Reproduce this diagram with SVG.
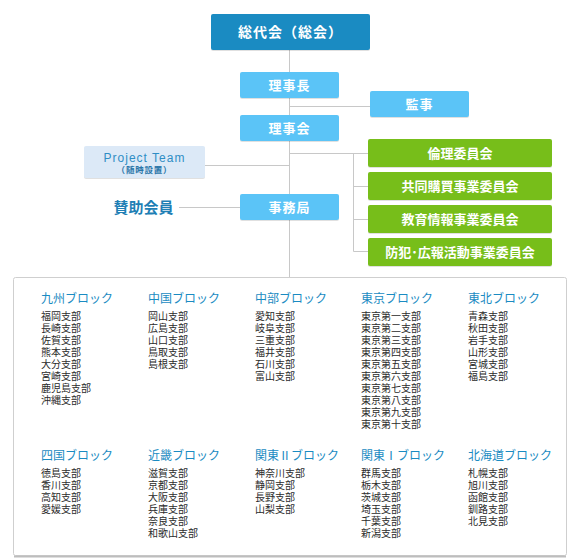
<svg xmlns="http://www.w3.org/2000/svg" width="580" height="559" viewBox="0 0 580 559">
<style>
text{font-family:"Noto Sans CJK JP","Liberation Sans",sans-serif}
.ln{stroke:#c8c8c8;stroke-width:1;fill:none}
.top{fill:#1a8bc2}
.lb{fill:#5bc4f7}
.gr{fill:#77be1a}
.shd{fill:#000;opacity:0.12}
.wt{fill:#fff;font-weight:bold;text-anchor:middle}
.hd{fill:#1a8bc2;font-size:12px}
.it{fill:#2b2b2b;font-size:10px;font-family:"Liberation Sans","Noto Sans CJK JP",sans-serif}
</style>
<rect width="580" height="559" fill="#fff"/>
<g id="connectors">
<path class="ln" d="M289.5 50V277"/>
<path class="ln" d="M289.5 106.5H370"/>
<path class="ln" d="M205 165.5H289.5"/>
<path class="ln" d="M179 207.5H240"/>
<path class="ln" d="M289.5 153.5H368"/>
<path class="ln" d="M353.5 153.5V251.5"/>
<path class="ln" d="M353.5 186.5H368M353.5 219.5H368M353.5 251.5H368"/>
</g>
<g id="sodaikai">
<rect class="shd" x="211" y="15" width="159" height="36" rx="2"/>
<rect class="top" x="211" y="14" width="159" height="36" rx="2"/>
<text class="wt" x="290.5" y="37" font-size="14" letter-spacing="1">総代会（総会）</text>
</g>
<g id="rijicho">
<rect class="shd" x="240" y="73" width="99" height="26" rx="2"/>
<rect class="lb" x="240" y="72" width="99" height="26" rx="2"/>
<text class="wt" x="289.5" y="90" font-size="13" letter-spacing="1">理事長</text>
</g>
<g id="kanji">
<rect class="shd" x="370" y="92" width="99" height="26" rx="2"/>
<rect class="lb" x="370" y="91" width="99" height="26" rx="2"/>
<text class="wt" x="419.5" y="109" font-size="13" letter-spacing="1">監事</text>
</g>
<g id="rijikai">
<rect class="shd" x="240" y="116" width="99" height="26" rx="2"/>
<rect class="lb" x="240" y="115" width="99" height="26" rx="2"/>
<text class="wt" x="289.5" y="133" font-size="13" letter-spacing="1">理事会</text>
</g>
<g id="project-team">
<rect class="shd" x="84" y="147" width="121" height="32" rx="2"/>
<rect x="84" y="146" width="121" height="32" rx="2" fill="#dce9f7"/>
<text x="144.5" y="161.5" font-size="12" fill="#2f8ec5" text-anchor="middle" letter-spacing="1" style="font-family:'Liberation Sans','Noto Sans CJK JP',sans-serif">Project Team</text>
<text x="144.5" y="173" font-size="8.5" fill="#2a75a8" font-weight="bold" text-anchor="middle" letter-spacing="0.8" style="font-family:'Liberation Sans','Noto Sans CJK JP',sans-serif">（随時設置）</text>
</g>
<g id="jimukyoku">
<rect class="shd" x="240" y="195" width="99" height="26" rx="2"/>
<rect class="lb" x="240" y="194" width="99" height="26" rx="2"/>
<text class="wt" x="289.5" y="212" font-size="13" letter-spacing="1">事務局</text>
</g>
<g id="sanjo">
<text x="143.5" y="213" font-size="15" font-weight="bold" fill="#1e7fb5" text-anchor="middle">賛助会員</text>
</g>
<g id="rinri">
<rect class="shd" x="368" y="140" width="184" height="28" rx="2"/>
<rect class="gr" x="368" y="139" width="184" height="28" rx="2"/>
<text class="wt" x="460" y="158" font-size="13">倫理委員会</text>
</g>
<g id="kyodo">
<rect class="shd" x="368" y="173" width="184" height="28" rx="2"/>
<rect class="gr" x="368" y="172" width="184" height="28" rx="2"/>
<text class="wt" x="460" y="191" font-size="13">共同購買事業委員会</text>
</g>
<g id="kyoiku">
<rect class="shd" x="368" y="206" width="184" height="28" rx="2"/>
<rect class="gr" x="368" y="205" width="184" height="28" rx="2"/>
<text class="wt" x="460" y="224" font-size="13">教育情報事業委員会</text>
</g>
<g id="bohan">
<rect class="shd" x="368" y="239" width="184" height="28" rx="2"/>
<rect class="gr" x="368" y="238" width="184" height="28" rx="2"/>
<text class="wt" x="460" y="257" font-size="13">防犯･広報活動事業委員会</text>
</g>
<g id="blocks">
<rect x="13.5" y="277.5" width="553" height="278" rx="2" fill="#fff" stroke="#cfcfcf"/>
<path d="M14 556.5H566" stroke="#bdbdbd" stroke-width="2"/>
<g id="kyushu">
<text class="hd" x="41" y="303">九州ブロック</text>
<text class="it" x="41" y="319.5">福岡支部</text><text class="it" x="41" y="331.5">長崎支部</text><text class="it" x="41" y="343.5">佐賀支部</text><text class="it" x="41" y="355.5">熊本支部</text><text class="it" x="41" y="367.5">大分支部</text><text class="it" x="41" y="379.5">宮崎支部</text><text class="it" x="41" y="391.5">鹿児島支部</text><text class="it" x="41" y="403.5">沖縄支部</text>
</g>
<g id="chugoku">
<text class="hd" x="148" y="303">中国ブロック</text>
<text class="it" x="148" y="319.5">岡山支部</text><text class="it" x="148" y="331.5">広島支部</text><text class="it" x="148" y="343.5">山口支部</text><text class="it" x="148" y="355.5">鳥取支部</text><text class="it" x="148" y="367.5">島根支部</text>
</g>
<g id="chubu">
<text class="hd" x="255" y="303">中部ブロック</text>
<text class="it" x="255" y="319.5">愛知支部</text><text class="it" x="255" y="331.5">岐阜支部</text><text class="it" x="255" y="343.5">三重支部</text><text class="it" x="255" y="355.5">福井支部</text><text class="it" x="255" y="367.5">石川支部</text><text class="it" x="255" y="379.5">富山支部</text>
</g>
<g id="tokyo">
<text class="hd" x="361" y="303">東京ブロック</text>
<text class="it" x="361" y="319.5">東京第一支部</text><text class="it" x="361" y="331.5">東京第二支部</text><text class="it" x="361" y="343.5">東京第三支部</text><text class="it" x="361" y="355.5">東京第四支部</text><text class="it" x="361" y="367.5">東京第五支部</text><text class="it" x="361" y="379.5">東京第六支部</text><text class="it" x="361" y="391.5">東京第七支部</text><text class="it" x="361" y="403.5">東京第八支部</text><text class="it" x="361" y="415.5">東京第九支部</text><text class="it" x="361" y="427.5">東京第十支部</text>
</g>
<g id="tohoku">
<text class="hd" x="468" y="303">東北ブロック</text>
<text class="it" x="468" y="319.5">青森支部</text><text class="it" x="468" y="331.5">秋田支部</text><text class="it" x="468" y="343.5">岩手支部</text><text class="it" x="468" y="355.5">山形支部</text><text class="it" x="468" y="367.5">宮城支部</text><text class="it" x="468" y="379.5">福島支部</text>
</g>
<g id="shikoku">
<text class="hd" x="41" y="460.3">四国ブロック</text>
<text class="it" x="41" y="477">徳島支部</text><text class="it" x="41" y="489">香川支部</text><text class="it" x="41" y="501">高知支部</text><text class="it" x="41" y="513">愛媛支部</text>
</g>
<g id="kinki">
<text class="hd" x="148" y="460.3">近畿ブロック</text>
<text class="it" x="148" y="477">滋賀支部</text><text class="it" x="148" y="489">京都支部</text><text class="it" x="148" y="501">大阪支部</text><text class="it" x="148" y="513">兵庫支部</text><text class="it" x="148" y="525">奈良支部</text><text class="it" x="148" y="537">和歌山支部</text>
</g>
<g id="kanto2">
<text class="hd" x="255" y="460.3">関東Ⅱブロック</text>
<text class="it" x="255" y="477">神奈川支部</text><text class="it" x="255" y="489">静岡支部</text><text class="it" x="255" y="501">長野支部</text><text class="it" x="255" y="513">山梨支部</text>
</g>
<g id="kanto1">
<text class="hd" x="361" y="460.3">関東Ⅰブロック</text>
<text class="it" x="361" y="477">群馬支部</text><text class="it" x="361" y="489">栃木支部</text><text class="it" x="361" y="501">茨城支部</text><text class="it" x="361" y="513">埼玉支部</text><text class="it" x="361" y="525">千葉支部</text><text class="it" x="361" y="537">新潟支部</text>
</g>
<g id="hokkaido">
<text class="hd" x="468" y="460.3">北海道ブロック</text>
<text class="it" x="468" y="477">札幌支部</text><text class="it" x="468" y="489">旭川支部</text><text class="it" x="468" y="501">函館支部</text><text class="it" x="468" y="513">釧路支部</text><text class="it" x="468" y="525">北見支部</text>
</g>
</g>
</svg>
